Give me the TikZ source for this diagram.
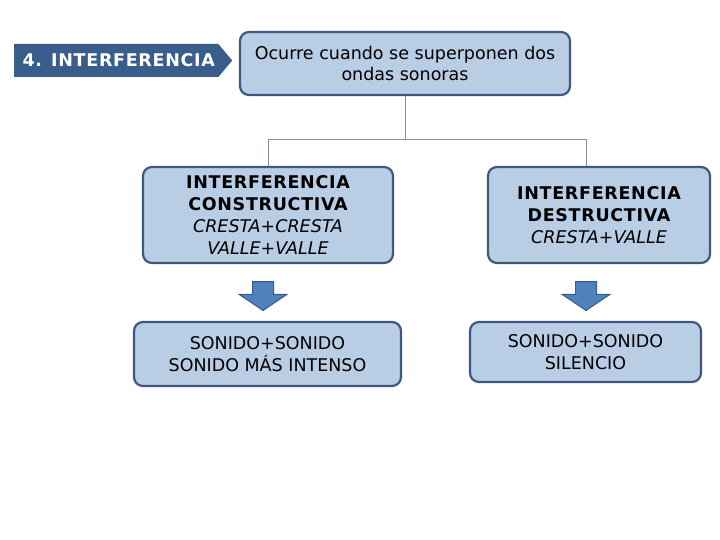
\documentclass[tikz,border=0pt]{standalone}
\usepackage{fontspec}
\setmainfont{DejaVu Sans}
\usetikzlibrary{shapes.symbols, shapes.arrows, positioning}
\definecolor{boxfill}{RGB}{185,205,229}
\definecolor{boxline}{RGB}{62,88,128}
\definecolor{tagblue}{RGB}{58,94,140}
\definecolor{arrowfill}{RGB}{79,129,189}
\definecolor{arrowline}{RGB}{55,92,138}
\definecolor{linkgray}{RGB}{125,145,170}
\newcommand{\spaced}[1]{{\bfseries\addfontfeature{LetterSpace=4}#1}}

\begin{document}
\begin{tikzpicture}[x=1pt, y=-1pt,
    card/.style={draw=boxline, line width=2.2pt, fill=boxfill, rounded corners=9pt,
        align=center, inner sep=0pt, font=\fontsize{17.5}{21.7}\selectfont},
    tag/.style={signal, signal to=east, signal pointer angle=100, fill=tagblue,
        text=white, inner sep=0pt, font=\bfseries\fontsize{17.5}{20}\selectfont},
    downarrow/.style={single arrow, rotate=-90, fill=arrowfill, draw=arrowline,
        line width=1pt, inner xsep=0pt, inner ysep=10pt, minimum height=29pt,
        single arrow head extend=13.5pt, single arrow tip angle=112, anchor=tail},
    link/.style={draw=linkgray, line width=0.9pt}]
    \useasboundingbox (0,0) rectangle (720,540);
    \fill[white] (0,0) rectangle (720,540);

    % title and definition
    \node[tag, minimum width=218pt, minimum height=33pt, anchor=west] (title) at (14,60.5)
        {\hspace*{5pt}{\addfontfeature{LetterSpace=4}4. INTERFERENCIA}};
    \node[card, minimum width=330pt, minimum height=63pt] (def) at (405,63.5)
        {Ocurre cuando se superponen dos\\ondas sonoras};

    % the two kinds
    \node[card, minimum width=250pt, minimum height=96pt] (cons) at (268,215)
        {\spaced{INTERFERENCIA}\\\spaced{CONSTRUCTIVA}\\\textit{CRESTA+CRESTA}\\\textit{VALLE+VALLE}};
    \node[card, minimum width=222pt, minimum height=96pt] (dest) at (599,215)
        {\spaced{INTERFERENCIA}\\\spaced{DESTRUCTIVA}\\\textit{CRESTA+VALLE}};

    % results
    \node[downarrow] (arrcons) at (263,281) {};
    \node[downarrow] (arrdest) at (586,281) {};
    \node[card, minimum width=267pt, minimum height=64pt] (loud) at (267.5,354)
        {SONIDO+SONIDO\\SONIDO MÁS INTENSO};
    \node[card, minimum width=231pt, minimum height=60pt] (quiet) at (585.5,352)
        {SONIDO+SONIDO\\SILENCIO};

    % tree lines
    \coordinate (hub) at (405,139);
    \draw[link] (def.south) -- (hub);
    \draw[link] (hub) -| (cons.north);
    \draw[link] (hub) -| ([xshift=-13pt]dest.north);
\end{tikzpicture}
\end{document}
